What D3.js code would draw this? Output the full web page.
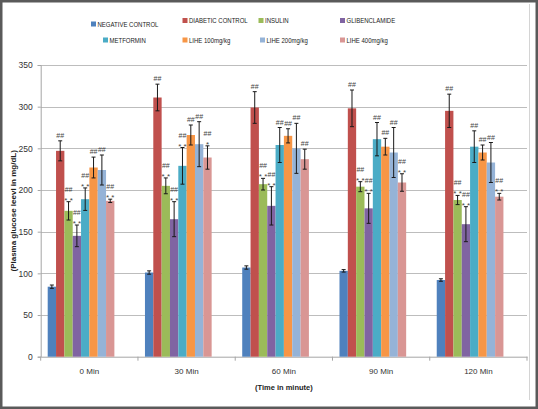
<!DOCTYPE html>
<html>
<head>
<meta charset="utf-8">
<script src="https://cdn.jsdelivr.net/npm/d3@7"></script>
<style>
  html, body { margin: 0; padding: 0; background: #fff; }
  svg { display: block; }
  text { font-family: "Liberation Sans", Arial, sans-serif; }
</style>
</head>
<body>
<svg id="chart" width="538" height="409"></svg>
<script>
// ---------------- DATA ----------------
const categories = ["0 Min", "30 Min", "60 Min", "90 Min", "120 Min"];
const seriesNames = ["NEGATIVE CONTROL", "DIABETIC CONTROL", "INSULIN", "GLIBENCLAMIDE",
                     "METFORMIN", "LIHE 100mg/kg", "LIHE 200mg/kg", "LIHE 400mg/kg"];
const seriesColors = ["#4F81BD", "#C0504D", "#9BBB59", "#8064A2",
                      "#4BACC6", "#F79646", "#95B3D7", "#D99694"];

const negativeControl    = [84, 101, 107, 103, 92];
const negativeControlErr = [2, 2, 2, 1.5, 1.5];
const diabeticControl    = [247, 311, 299, 298, 295];
const diabeticControlErr = [12, 16, 19, 22, 20];
const insulin            = [175, 205, 207, 204, 188];
const insulinErr         = [11, 9.5, 7, 6, 5.5];
const glibenclamide      = [145, 165, 181, 178, 159];
const glibenclamideErr   = [13, 21, 23, 18, 21];
const metformin          = [189, 229, 254, 261, 252];
const metforminErr       = [13.5, 22, 21, 20, 19];
const lihe100            = [227, 266, 265, 252, 245];
const lihe100Err         = [12.5, 12, 8.5, 10, 9];
const lihe200            = [224, 255, 250, 245, 233];
const lihe200Err         = [18, 27, 30, 30, 24];
const lihe400            = [187, 239, 237, 209, 192];
const lihe400Err         = [2, 14, 12, 10.5, 4];

// significance marks (per series, per category)
const hashMarks = [
  ["", "", "", "", ""],
  ["##", "##", "##", "##", "##"],
  ["##", "##", "##", "##", "##"],
  ["##", "##", "##", "##", "##"],
  ["##", "##", "##", "##", "##"],
  ["##", "##", "##", "##", "##"],
  ["##", "##", "##", "##", "##"],
  ["##", "##", "##", "##", "##"]
];
const starMarks = [
  ["", "", "", "", ""],
  ["", "", "", "", ""],
  ["* *", "* *", "* *", "* *", "* *"],
  ["* *", "* *", "* *", "* *", "* *"],
  ["* *", "* *", "", "", ""],
  ["", "", "", "", ""],
  ["", "", "", "", ""],
  ["* *", "*", "", "* *", "* *"]
];

const yTicks = [0, 50, 100, 150, 200, 250, 300, 350];
const xTitle = "(Time in minute)";
const yTitle = "(Plasma glucose leevl in mg/dL)";

// ---------------- BUILD ----------------
const seriesValues = [negativeControl, diabeticControl, insulin, glibenclamide,
                      metformin, lihe100, lihe200, lihe400];
const seriesErrs = [negativeControlErr, diabeticControlErr, insulinErr, glibenclamideErr,
                    metforminErr, lihe100Err, lihe200Err, lihe400Err];

const svg = d3.select("#chart");

// frame
svg.append("rect").attr("x", 1.25).attr("y", 1.25).attr("width", 535.5).attr("height", 406.5)
  .attr("fill", "#fff").attr("stroke", "#5a5a5a").attr("stroke-width", 2.5);
svg.append("line").attr("x1", 529.5).attr("x2", 529.5).attr("y1", 4).attr("y2", 400)
  .attr("stroke", "#d4d4d4").attr("stroke-width", 1);

const plotLeft = 40.7, plotRight = 527, plotTop = 65, plotBottom = 356.7;

const y = d3.scaleLinear().domain([0, 350]).range([plotBottom, plotTop]);
const x0 = d3.scaleBand().domain(categories).range([plotLeft, plotRight]).padding(0);
const bw = x0.bandwidth();
const x1 = d3.scaleBand().domain(seriesNames)
  .range([bw * 0.072, bw * 0.072 + 8 * bw * 0.0857]).padding(0);

// gridlines
svg.append("g").selectAll("line").data(yTicks.filter(d => d > 0)).join("line")
  .attr("x1", plotLeft).attr("x2", plotRight)
  .attr("y1", d => Math.round(y(d)) + 0.5).attr("y2", d => Math.round(y(d)) + 0.5)
  .attr("stroke", "#bdbdbd").attr("stroke-width", 1.2);

// y axis
const yAxis = svg.append("g").attr("transform", `translate(${plotLeft},0)`)
  .call(d3.axisLeft(y).tickValues(yTicks).tickSize(3).tickPadding(5));
yAxis.select(".domain").attr("stroke", "#a6a6a6");
yAxis.selectAll(".tick line").attr("stroke", "#a6a6a6");
yAxis.selectAll(".tick text").attr("font-size", "8.5px").attr("fill", "#333")
  .attr("font-family", "Liberation Sans, Arial, sans-serif");

// x axis
const xAxis = svg.append("g").attr("transform", `translate(0,${plotBottom})`)
  .call(d3.axisBottom(x0).tickSize(0).tickPadding(12));
xAxis.select(".domain").attr("stroke", "#a6a6a6");
xAxis.selectAll(".tick text").attr("font-size", "8px").attr("fill", "#333")
  .attr("font-family", "Liberation Sans, Arial, sans-serif");
// boundary ticks between categories
svg.append("g").selectAll("line")
  .data(categories.map(c => x0(c)).concat([plotRight])).join("line")
  .attr("x1", d => d).attr("x2", d => d)
  .attr("y1", plotBottom).attr("y2", plotBottom + 4)
  .attr("stroke", "#a6a6a6");

// bars
const groups = svg.append("g").selectAll("g").data(categories).join("g")
  .attr("transform", c => `translate(${x0(c)},0)`);

const rows = (c, ci) => seriesNames.map((s, si) => ({
  s, si, v: seriesValues[si][ci], e: seriesErrs[si][ci],
  h: hashMarks[si][ci], st: starMarks[si][ci]
}));

groups.each(function(c, ci) {
  const g = d3.select(this);
  const data = rows(c, ci);
  g.selectAll("rect").data(data).join("rect")
    .attr("x", d => x1(d.s))
    .attr("width", x1.bandwidth())
    .attr("y", d => y(d.v))
    .attr("height", d => y(0) - y(d.v))
    .attr("fill", d => seriesColors[d.si]);

  const eb = g.append("g").attr("stroke", "#1a1a1a").attr("stroke-width", 1);
  data.forEach(d => {
    const cx = x1(d.s) + x1.bandwidth() / 2;
    eb.append("line").attr("x1", cx).attr("x2", cx).attr("y1", y(d.v + d.e)).attr("y2", y(d.v - d.e));
    eb.append("line").attr("x1", cx - 2).attr("x2", cx + 2).attr("y1", y(d.v + d.e)).attr("y2", y(d.v + d.e));
    eb.append("line").attr("x1", cx - 2).attr("x2", cx + 2).attr("y1", y(d.v - d.e)).attr("y2", y(d.v - d.e));
  });

  data.forEach(d => {
    const cx = x1(d.s) + x1.bandwidth() / 2;
    const top = y(d.v + d.e);
    if (d.st) {
      g.append("text").attr("x", cx).attr("y", top + 1).attr("text-anchor", "middle")
        .attr("font-size", "8px").attr("fill", "#444").text(d.st);
    }
    if (d.h) {
      g.append("text").attr("x", cx).attr("y", d.st ? top - 10 : top - 3)
        .attr("text-anchor", "middle")
        .attr("font-size", "7px").attr("fill", "#444").text(d.h);
    }
  });
});

// axis titles
svg.append("text").attr("x", (plotLeft + plotRight) / 2).attr("y", 389.5)
  .attr("text-anchor", "middle").attr("font-size", "7.5px").attr("font-weight", "bold")
  .attr("fill", "#222").text(xTitle);
svg.append("text").attr("transform", `translate(15.5,${(plotTop + plotBottom) / 2}) rotate(-90)`)
  .attr("text-anchor", "middle").attr("font-size", "8px").attr("font-weight", "bold")
  .attr("fill", "#222").text(yTitle);

// legend
const legendPos = [[91, 24], [182.5, 20.5], [258.5, 20.5], [340, 20.5],
                   [103, 40], [182.5, 40], [260, 40], [340, 40]];
const legend = svg.append("g").selectAll("g").data(seriesNames).join("g")
  .attr("transform", (d, i) => `translate(${legendPos[i][0]},${legendPos[i][1]})`);
legend.append("rect").attr("x", 0).attr("y", -2.5).attr("width", 5).attr("height", 5)
  .attr("fill", (d, i) => seriesColors[i]);
legend.append("text").attr("x", 6.5).attr("y", 2.7).attr("font-size", "7.5px")
  .attr("fill", "#222").text(d => d)
  .each(function() {
    const w = this.getComputedTextLength();
    d3.select(this).attr("textLength", w * 0.8).attr("lengthAdjust", "spacingAndGlyphs");
  });
</script>
</body>
</html>
